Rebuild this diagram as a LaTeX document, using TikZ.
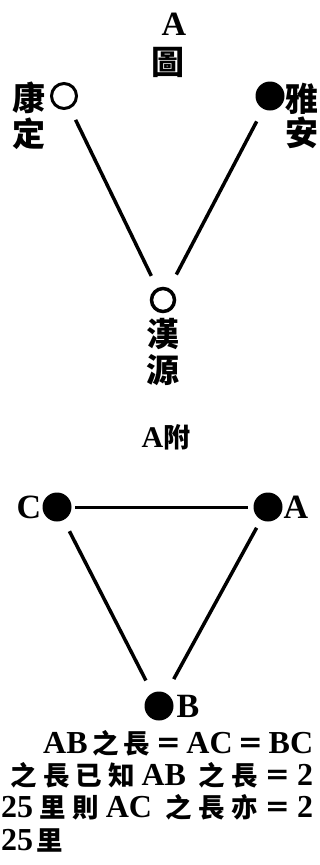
\documentclass[tikz,border=0pt]{standalone}
\usepackage{fontspec}
\setmainfont{Liberation Serif}
\newfontfamily\cjk{Noto Sans CJK TC}
\newcommand{\lt}[1]{{\rmfamily\bfseries\fontsize{32}{32}\selectfont #1}}
\begin{document}
\begin{tikzpicture}[x=1pt,y=-1pt,
  big/.style={font=\cjk\bfseries\fontsize{33}{33}\selectfont,inner sep=0},
  lat/.style={font=\rmfamily\bfseries\fontsize{34}{34}\selectfont,inner sep=0},
  txt/.style={font=\cjk\bfseries\fontsize{26.5}{26.5}\selectfont,inner sep=0,anchor=west},
  opencirc/.style={circle,draw,line width=3pt,minimum size=25pt,inner sep=0},
  fullcirc/.style={circle,fill,minimum size=29pt,inner sep=0},
  edge/.style={line width=3.5pt}]
\useasboundingbox (0,0) rectangle (320,865);
\node[lat] (ta) at (174,24) {A};
\node[big] (tt) at (168,62) {圖};
\node[opencirc] (kd) at (64,96) {};
\node[big] (k1) at (29,98) {康};
\node[big] (k2) at (29,134) {定};
\node[fullcirc] (ya) at (270,96) {};
\node[big] (y1) at (302,99) {雅};
\node[big] (y2) at (302,133) {安};
\node[opencirc,line width=3.5pt,minimum size=23pt] (hy) at (163,300) {};
\node[big] (h1) at (163,334) {漢};
\node[big] (h2) at (163,370) {源};
\node[inner sep=0,font=\cjk\bfseries\fontsize{27}{27}\selectfont] (af) at (166,437) {{\rmfamily\fontsize{30}{30}\selectfont A}附};
\draw[edge,shorten <=12.5pt,shorten >=13.5pt] (kd) -- (hy);
\draw[edge,shorten <=14pt,shorten >=15.5pt] (ya) -- (hy);
\node[fullcirc] (C) at (57,507) {};
\node[fullcirc] (A) at (268,507) {};
\node[fullcirc] (B) at (159,706) {};
\node[lat] (lc) at (29,507) {C};
\node[lat] (la) at (296,507) {A};
\node[lat] (lb) at (188,706) {B};
\draw[line width=3pt,shorten <=3.5pt,shorten >=5.5pt] (C) -- (A);
\draw[edge,shorten <=12.5pt,shorten >=14pt] (C) -- (B);
\draw[edge,shorten <=9pt,shorten >=16pt] (A) -- (B);
\node[txt] (t1) at (43,743) {\hbox to 270pt{\lt{AB}\hfill 之\hfill 長\hfill ＝\hfill\lt{AC}\hfill ＝\hfill\lt{BC}}};
\node[txt] (t2) at (10,775) {\hbox to 303pt{之\hfill 長\hfill 已\hfill 知\hfill\lt{AB}\hfill\hfill 之\hfill 長\hfill ＝\hfill\lt{2}}};
\node[txt] (t3) at (1,807) {\hbox to 312pt{\lt{25}\hfill 里\hfill 則\hfill\lt{AC}\hfill\hfill 之\hfill 長\hfill 亦\hfill ＝\hfill\lt{2}}};
\node[txt] (t4) at (1,840) {\hbox to 62pt{\lt{25}\hfill 里}};
\end{tikzpicture}
\end{document}
